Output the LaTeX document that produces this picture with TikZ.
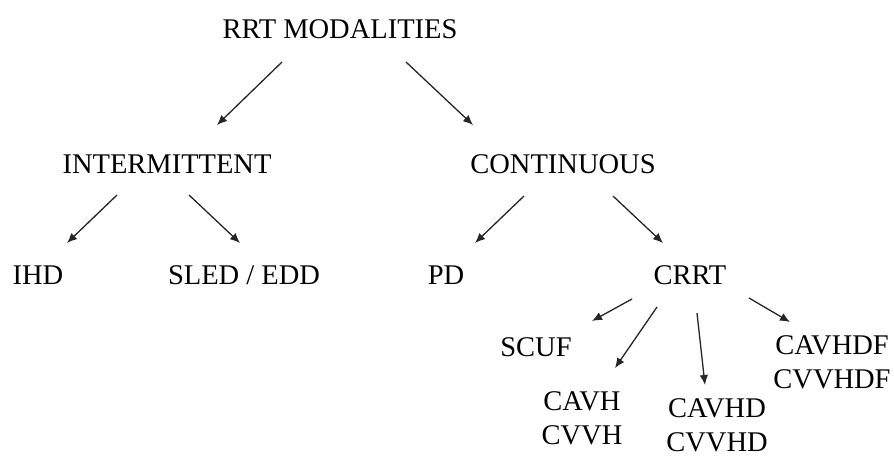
\documentclass[tikz,border=0pt]{standalone}
\usepackage{fontspec}
\setmainfont{Liberation Serif}
\usetikzlibrary{calc}
\usetikzlibrary{positioning}
\usetikzlibrary{arrows.meta}

\begin{document}
\begin{tikzpicture}[x=1pt, y=-1pt,
		style={align=center, inner sep=0pt, font=\fontsize{28.5}{34}\selectfont},
		lbl/.style={text height=19pt, text depth=0pt},
		arr/.style={-{Latex[length=10pt, width=8.5pt]}, line width=1.3pt, draw=black!85}]
		\useasboundingbox (0,0) rectangle (894,459);
		\node[lbl] (R) at (340,29) {RRT MODALITIES};
		\node[lbl] (I) at (167,164) {INTERMITTENT};
		\node[lbl] (C) at (563,164) {CONTINUOUS};
		\node[lbl] (IHD) at (38,275) {IHD};
		\node[lbl] (SLED) at (244,275) {SLED / EDD};
		\node[lbl] (PD) at (446,275) {PD};
		\node[lbl] (CRRT) at (690,275) {CRRT};
		\node[lbl] (SCUF) at (536,347) {SCUF};
		\node (CAVH) at (582,418) {CAVH\\CVVH};
		\node (CAVHD) at (717,425) {CAVHD\\CVVHD};
		\node (CAVHDF) at (832,362) {CAVHDF\\CVVHDF};
		\draw[arr] ([shift={(-58,33)}]R.center) -- ([shift={(50,-39)}]I.center);
		\draw[arr] ([shift={(66,33)}]R.center) -- ([shift={(-90,-39)}]C.center);
		\draw[arr] ([shift={(-50,31)}]I.center) -- ([shift={(29,-32)}]IHD.center);
		\draw[arr] ([shift={(22,31)}]I.center) -- ([shift={(-4,-32)}]SLED.center);
		\draw[arr] ([shift={(-39,32)}]C.center) -- ([shift={(29,-32)}]PD.center);
		\draw[arr] ([shift={(50,32)}]C.center) -- ([shift={(-27,-32)}]CRRT.center);
		\draw[arr] ([shift={(-58,24)}]CRRT.center) -- ([shift={(56,-26)}]SCUF.center);
		\draw[arr] ([shift={(-33,32)}]CRRT.center) -- ([shift={(33,-50)}]CAVH.center);
		\draw[arr] ([shift={(7,38)}]CRRT.center) -- ([shift={(-12,-40)}]CAVHD.center);
		\draw[arr] ([shift={(59,23)}]CRRT.center) -- ([shift={(-42,-40)}]CAVHDF.center);
		\end{tikzpicture}
\end{document}
